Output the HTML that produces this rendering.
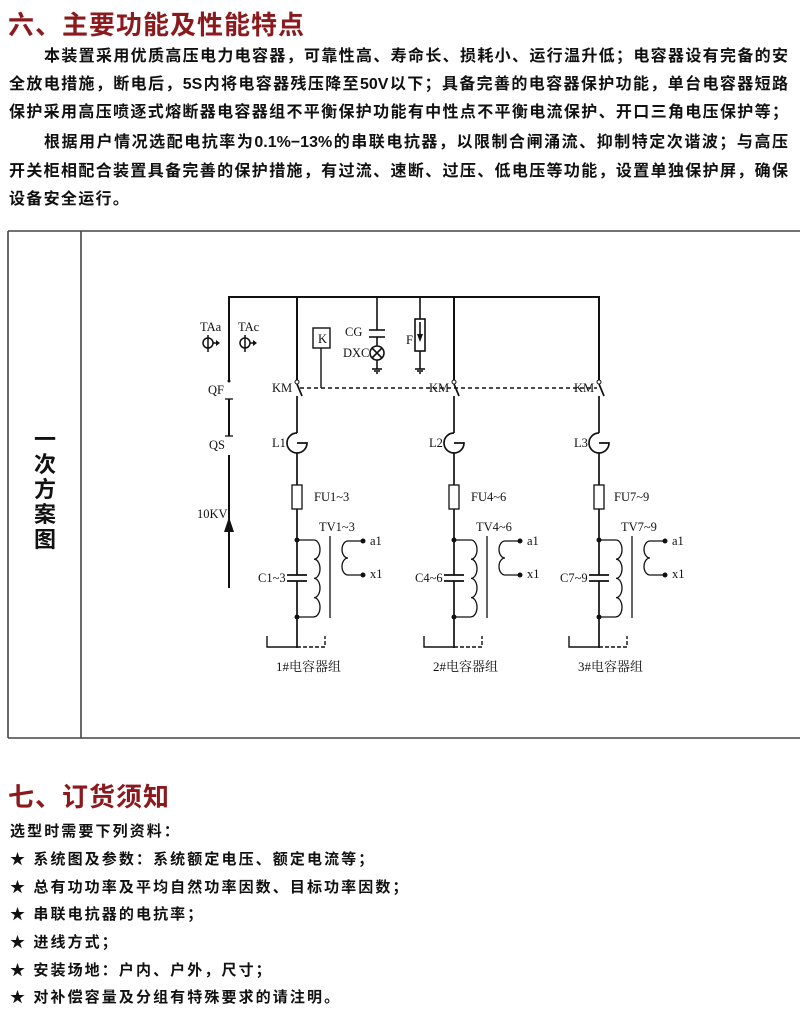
<!DOCTYPE html>
<html><head><meta charset="utf-8">
<style>
html,body{margin:0;padding:0;background:#fff;}
body{width:800px;height:1022px;position:relative;overflow:hidden;font-family:"Liberation Sans","Noto Sans CJK SC",sans-serif;color:#111;}
.t{position:absolute;left:8px;font-size:26px;font-weight:bold;color:#8b1a1e;line-height:30px;letter-spacing:1px;}
.p{position:absolute;font-size:16px;font-weight:bold;line-height:20px;white-space:nowrap;}
.j{text-align:justify;text-align-last:justify;}
.l{position:absolute;left:10px;font-size:15px;font-weight:bold;line-height:20px;letter-spacing:2.1px;white-space:nowrap;}
svg{position:absolute;left:0;top:0;}
</style></head><body>
<div class="t" style="top:10px">六、主要功能及性能特点</div>
<div class="p j" style="top:47px;left:44px;width:744px">本装置采用优质高压电力电容器，可靠性高、寿命长、损耗小、运行温升低；电容器设有完备的安</div>
<div class="p j" style="top:75px;left:9px;width:779px">全放电措施，断电后，5S内将电容器残压降至50V以下；具备完善的电容器保护功能，单台电容器短路</div>
<div class="p j" style="top:103px;left:9px;width:779px">保护采用高压喷逐式熔断器电容器组不平衡保护功能有中性点不平衡电流保护、开口三角电压保护等；</div>
<div class="p j" style="top:133px;left:44px;width:744px">根据用户情况选配电抗率为0.1%−13%的串联电抗器，以限制合闸涌流、抑制特定次谐波；与高压</div>
<div class="p j" style="top:162px;left:9px;width:779px">开关柜相配合装置具备完善的保护措施，有过流、速断、过压、低电压等功能，设置单独保护屏，确保</div>
<div class="p" style="top:190px;left:9px;letter-spacing:1.3px">设备安全运行。</div>

<svg width="800" height="1022" viewBox="0 0 800 1022" font-family="Liberation Serif, serif" font-size="12" fill="none" stroke="#111">
<!-- frame -->
<g stroke="#444" stroke-width="1.6">
<line x1="8" y1="231" x2="800" y2="231"/>
<line x1="8" y1="738" x2="800" y2="738"/>
<line x1="8" y1="231" x2="8" y2="738"/>
<line x1="81" y1="231" x2="81" y2="738"/>
</g>
<g fill="#111" stroke="none" font-family="Liberation Sans, Noto Sans CJK SC, sans-serif" font-size="22" font-weight="bold" text-anchor="middle">
<text x="45" y="447">一</text><text x="45" y="472">次</text><text x="45" y="497">方</text><text x="45" y="522">案</text><text x="45" y="547">图</text>
</g>
<g stroke-width="2">
<!-- bus -->
<polyline points="229,380 229,297 599,297 599,380"/>
<line x1="297" y1="297" x2="297" y2="380"/>
<line x1="454" y1="297" x2="454" y2="380"/>
<!-- QF QS line -->
<line x1="229" y1="399" x2="229" y2="436"/>
<line x1="229" y1="455" x2="229" y2="588"/>
</g>
<path d="M224,532 L229,517 L234,532 Z" fill="#111" stroke="none"/>
<g stroke-width="1.3">
<line x1="225" y1="399" x2="233" y2="399"/>
<line x1="225" y1="436" x2="233" y2="436"/>
</g>
<circle cx="229" cy="381" r="1.5" fill="#111" stroke="none"/>
<!-- TA symbols -->
<g stroke-width="1.5">
<circle cx="208" cy="343" r="5"/><line x1="208" y1="335" x2="208" y2="352"/><line x1="213" y1="343" x2="218" y2="343"/>
<circle cx="245" cy="343" r="5"/><line x1="245" y1="335" x2="245" y2="352"/><line x1="250" y1="343" x2="255" y2="343"/>
</g>
<path d="M216,340 L220,343 L216,346Z M253,340 L257,343 L253,346Z" fill="#111" stroke="none"/>
<!-- K box -->
<rect x="313" y="328" width="17" height="20" stroke-width="1.4"/>
<line x1="321" y1="348" x2="321" y2="388" stroke-width="1.4"/>
<!-- CG / DXC -->
<g stroke-width="1.6">
<line x1="377" y1="297" x2="377" y2="330"/>
<line x1="369" y1="330" x2="385" y2="330"/>
<line x1="369" y1="337" x2="385" y2="337"/>
<line x1="377" y1="337" x2="377" y2="346"/>
<circle cx="377" cy="353" r="7"/>
<line x1="372" y1="348" x2="382" y2="358"/><line x1="382" y1="348" x2="372" y2="358"/>
<line x1="377" y1="360" x2="377" y2="369"/>
<line x1="372" y1="369" x2="382" y2="369"/><line x1="374" y1="371" x2="380" y2="371"/><line x1="376" y1="373" x2="378" y2="373"/>
<!-- F -->
<line x1="420" y1="297" x2="420" y2="319"/>
<rect x="415" y="319" width="10" height="32"/>
<line x1="420" y1="322" x2="420" y2="336"/>
<line x1="420" y1="351" x2="420" y2="369"/>
<line x1="415" y1="369" x2="425" y2="369"/><line x1="417" y1="371" x2="423" y2="371"/><line x1="419" y1="373" x2="421" y2="373"/>
</g>
<path d="M417,334 L420,342 L423,334Z" fill="#111" stroke="none"/>
<!-- dashed -->
<line x1="300" y1="388" x2="597" y2="388" stroke-width="1.4" stroke-dasharray="4,3"/>

<!-- branches -->
<g id="b" stroke-width="1.7">
<circle cx="297" cy="382" r="2" stroke-width="1"/>
<line x1="297" y1="384" x2="302" y2="396"/>
<line x1="297" y1="396" x2="297" y2="433"/>
<path d="M297,433 A10,10 0 1,0 297,453 M297,443 L307,443 A10,10 0 0,1 297,453"/>
<line x1="297" y1="453" x2="297" y2="485"/>
<rect x="292" y="485" width="10" height="24" stroke-width="1.3"/>
<line x1="297" y1="509" x2="297" y2="575"/>
<line x1="287" y1="575" x2="307" y2="575"/>
<line x1="287" y1="581" x2="307" y2="581"/>
<line x1="297" y1="581" x2="297" y2="648"/>
<line x1="297" y1="540" x2="314" y2="540" stroke-width="1.3"/>
<line x1="297" y1="617" x2="314" y2="617" stroke-width="1.3"/>
<path d="M314,540 a6,9.6 0 0,1 0,19.2 a6,9.6 0 0,1 0,19.2 a6,9.6 0 0,1 0,19.2 a6,9.6 0 0,1 0,19.2" stroke-width="1.3"/>
<line x1="330" y1="536" x2="330" y2="618" stroke-width="1.3"/>
<path d="M355,541 L348,541 a6,8.5 0 0,0 0,17 a6,8.5 0 0,0 0,17 L355,575 L362,575 M355,541 L362,541" stroke-width="1.3"/>
<polyline points="267,636 267,647 297,647" stroke-width="1.4"/>
<polyline points="297,647 325,647 325,636" stroke-width="1.4" stroke-dasharray="4,2"/>
</g>
<g fill="#111" stroke="none">
<circle cx="297" cy="540" r="2.5"/><circle cx="297" cy="617" r="2.5"/>
<circle cx="363" cy="541" r="2.5"/><circle cx="363" cy="575" r="2.5"/>
</g>
<use href="#b" x="157"/>
<use href="#b" x="302"/>
<g fill="#111" stroke="none">
<circle cx="454" cy="540" r="2.5"/><circle cx="454" cy="617" r="2.5"/><circle cx="520" cy="541" r="2.5"/><circle cx="520" cy="575" r="2.5"/>
<circle cx="599" cy="540" r="2.5"/><circle cx="599" cy="617" r="2.5"/><circle cx="665" cy="541" r="2.5"/><circle cx="665" cy="575" r="2.5"/>
</g>

<!-- labels -->
<g fill="#111" stroke="none" font-size="12.5">
<text x="200" y="331">TAa</text><text x="238" y="331">TAc</text>
<text x="208" y="394">QF</text><text x="209" y="449">QS</text><text x="197" y="518">10KV</text>
<text x="318" y="343">K</text>
<text x="345" y="336">CG</text><text x="343" y="357">DXC</text>
<text x="406" y="344">F</text>
<text x="272" y="392">KM</text><text x="429" y="392">KM</text><text x="574" y="392">KM</text>
<text x="272" y="447">L1</text><text x="429" y="447">L2</text><text x="574" y="447">L3</text>
<text x="314" y="501">FU1~3</text><text x="471" y="501">FU4~6</text><text x="614" y="501">FU7~9</text>
<text x="319" y="531">TV1~3</text><text x="476" y="531">TV4~6</text><text x="621" y="531">TV7~9</text>
<text x="258" y="582">C1~3</text><text x="415" y="582">C4~6</text><text x="560" y="582">C7~9</text>
<text x="370" y="545">a1</text><text x="370" y="578">x1</text>
<text x="527" y="545">a1</text><text x="527" y="578">x1</text>
<text x="672" y="545">a1</text><text x="672" y="578">x1</text>
<g font-family="Liberation Serif, Noto Serif CJK SC, serif" font-size="13">
<text x="276" y="671">1#电容器组</text><text x="433" y="671">2#电容器组</text><text x="578" y="671">3#电容器组</text>
</g>
</g>
</svg>

<div class="t" style="top:782px">七、订货须知</div>
<div class="l" style="top:822px">选型时需要下列资料：</div>
<div class="l" style="top:850px">★ 系统图及参数：系统额定电压、额定电流等；</div>
<div class="l" style="top:878px">★ 总有功功率及平均自然功率因数、目标功率因数；</div>
<div class="l" style="top:905px">★ 串联电抗器的电抗率；</div>
<div class="l" style="top:933px">★ 进线方式；</div>
<div class="l" style="top:961px">★ 安装场地：户内、户外，尺寸；</div>
<div class="l" style="top:988px">★ 对补偿容量及分组有特殊要求的请注明。</div>
</body></html>
